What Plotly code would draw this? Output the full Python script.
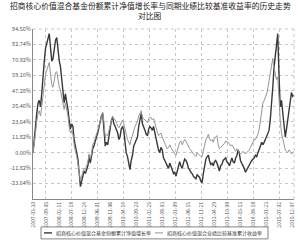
import plotly.graph_objects as go
import calendar

# semi-monthly sampling dates (15th and month end), starting at fund inception
def semi_monthly(start_year, start_month, end_year, end_month):
    out = ["2007-03-30"]
    y, m = start_year, start_month
    while (y, m) <= (end_year, end_month):
        last = calendar.monthrange(y, m)[1]
        out.append(f"{y:04d}-{m:02d}-15")
        out.append(f"{y:04d}-{m:02d}-{last:02d}")
        m += 1
        if m > 12:
            m = 1
            y += 1
    return out

dates = semi_monthly(2007, 4, 2015, 12)

fund = [0,
    8, 20, 30, 38, 40, 35, 45, 60, 70, 80, 84, 88, 91, 80, 70, 72, 80, 86,
    88, 76, 70, 66, 55, 47, 38, 45, 40, 33, 25, 18, 22, 20, 10, 5, 0, -5, -15, -26, -22, -18, -14, -16,
    -12, -10, -2, -8, -3, 3, 5, 10, 12, 15, 20, 24, 28, 30, 20, 5, 8, 6, 12, 18, 25, 27, 22, 20,
    18, 15, 10, 12, 18, 20, 17, 8, 0, -3, -8, -13, -6, -2, 5, 8, 10, 12, 20, 25, 30, 22, 20, 17,
    14, 13, 18, 20, 19, 17, 20, 15, 10, 6, 2, 0, 4, 2, -4, -6, -8, -10, -12, -8, -10, -13, -16, -15,
    -18, -14, -9, -7, -10, -12, -8, -5, -6, -8, -12, -13, -15, -16, -18, -19, -20, -17, -18, -19, -22, -23, -16, -8,
    -5, -3, -2, -6, -9, -8, -10, -7, -6, -8, -12, -14, -10, -9, -6, -5, -4, -7, -8, -10, -6, -4, -7, -8,
    -4, -2, 2, 0, -6, -8, -10, -12, -15, -13, -12, -10, -8, -6, -5, -4, -2, -3, 0, 2, 5, 8, 6, 8,
    10, 12, 15, 17, 25, 35, 50, 65, 75, 85, 91, 60, 35, 40, 30, 17, 12, 18, 25, 30, 40, 46, 43, 44]

bench = [0,
    6, 15, 24, 30, 32, 28, 35, 45, 55, 60, 63, 66, 69, 60, 52, 50, 55, 61,
    62, 55, 50, 48, 42, 38, 33, 38, 34, 28, 20, 15, 17, 14, 6, 2, -3, -8, -15, -22, -18, -15, -12, -13,
    -10, -7, -1, -5, -1, 6, 8, 12, 14, 17, 21, 25, 29, 31, 24, 12, 14, 13, 17, 21, 26, 28, 26, 25,
    23, 20, 19, 21, 24, 25, 22, 18, 13, 10, 8, 6, 10, 14, 18, 20, 22, 24, 28, 30, 32, 27, 26, 25,
    24, 23, 26, 27, 27, 25, 26, 22, 18, 16, 13, 14, 15, 12, 9, 7, 5, 3, 4, 6, 4, 2, 0, -1,
    -2, 2, 6, 8, 9, 6, 8, 10, 9, 7, 4, 3, 2, 0, -1, -2, -3, 0, -1, -2, -3, -3, 2, 8,
    10, 12, 14, 11, 9, 10, 8, 11, 12, 13, 6, 3, 4, 5, 6, 7, 9, 8, 8, 6, 5, 6, 4, 2,
    1, 3, 2, 0, -1, 0, 1, 0, -1, 0, 1, 2, 4, 6, 8, 10, 10, 12, 14, 18, 24, 32, 38, 40,
    42, 45, 50, 55, 62, 66, 72, 65, 60, 56, 58, 40, 25, 15, 10, 5, 2, 1, 0, 2, 1, -1, 0, 1]

y_ticks = [-23.64, -11.82, 0.00, 11.82, 23.64, 35.46, 47.28, 59.10, 70.92, 82.74, 94.56]
y_range = [-35.46, 94.56]

x_tick_dates = ["2007-03-30", "2007-09-05", "2008-02-11", "2008-07-18", "2008-12-24",
                "2009-06-01", "2009-11-06", "2010-04-14", "2010-09-20", "2011-02-25",
                "2011-08-03", "2012-01-09", "2012-06-15", "2012-11-21", "2013-04-29",
                "2013-10-08", "2014-03-13", "2014-08-18", "2015-01-23", "2015-07-02",
                "2015-12-07"]

title_lines = ["招商核心价值混合基金份额累计净值增长率与同期业绩比较基准收益率的历史走势", "对比图"]
name_fund = "招商核心价值混合基金份额累计净值增长率"
name_bench = "招商核心价值混合业绩比较基准累计收益率"
colors = ["#383838", "#959595"]
widths = [1.4, 1.0]

FONT = "Noto Sans CJK SC"
W, H = 300, 241
ML, MR, MT, MB = 33, 6, 29, 41.5
PW, PH = W - ML - MR, H - MT - MB

def px_x(x):  # pixel -> paper x
    return (x - ML) / PW

def px_y(y):  # pixel -> paper y
    return (H - MB - y) / PH

fig = go.Figure()
fig.add_trace(go.Scatter(x=dates, y=fund, mode="lines", name=name_fund,
                         line=dict(color=colors[0], width=widths[0])))
fig.add_trace(go.Scatter(x=dates, y=bench, mode="lines", name=name_bench,
                         line=dict(color=colors[1], width=widths[1])))

fig.update_layout(
    width=W, height=H,
    margin=dict(l=ML, r=MR, t=MT, b=MB, autoexpand=False),
    paper_bgcolor="white", plot_bgcolor="white",
    font=dict(family=FONT, color="#444"),
    showlegend=False,
)
for i, line in enumerate(title_lines):
    fig.add_annotation(text=line, xref="paper", yref="paper",
                       x=px_x(W / 2), y=px_y(5.5 + 10 * i),
                       xanchor="center", yanchor="middle", showarrow=False,
                       font=dict(family=FONT, size=7.8, color="#222"))

# legend box drawn by hand (one row, boxed, below the axis labels)
fig.add_shape(type="rect", xref="paper", yref="paper",
              x0=px_x(41), x1=px_x(268), y0=px_y(227.5), y1=px_y(239.5),
              line=dict(color="#666", width=0.8), fillcolor="white")
leg_x = [44, 155]
for i, (nm, c, w) in enumerate(zip([name_fund, name_bench], colors, widths)):
    fig.add_shape(type="line", xref="paper", yref="paper",
                  x0=px_x(leg_x[i]), x1=px_x(leg_x[i] + 8), y0=px_y(233.5), y1=px_y(233.5),
                  line=dict(color=c, width=w))
    fig.add_annotation(text=nm, xref="paper", yref="paper",
                       x=px_x(leg_x[i] + 10), y=px_y(233.5), xanchor="left", yanchor="middle",
                       showarrow=False, font=dict(family=FONT, size=5, color="#333"))

fig.update_xaxes(
    type="date", range=[dates[0], dates[-1]],
    tickvals=x_tick_dates, ticktext=x_tick_dates, tickangle=-90,
    tickfont=dict(family=FONT, size=5, color="#555"),
    showgrid=False, showline=True, linecolor="#888", linewidth=1,
    ticks="", zeroline=False, automargin=False,
    minor=dict(tickvals=x_tick_dates[1::2], showgrid=True, gridcolor="#c8c8c8",
               griddash="dot", gridwidth=1),
)
fig.update_yaxes(
    range=y_range, tickvals=y_ticks, ticktext=[f"{v:.2f}%" for v in y_ticks],
    tickfont=dict(family=FONT, size=5.5, color="#555"),
    showgrid=True, gridcolor="#c8c8c8", griddash="dot", gridwidth=1,
    showline=True, linecolor="#888", linewidth=1, zeroline=False, ticks="", automargin=False,
)
fig.add_shape(type="line", xref="paper", yref="paper", x0=0, x1=1, y0=1, y1=1,
              line=dict(color="#c8c8c8", width=1, dash="dot"))
fig.add_shape(type="line", xref="paper", yref="paper", x0=1, x1=1, y0=0, y1=1,
              line=dict(color="#c8c8c8", width=1, dash="dot"))

fig.write_html("out.html")
